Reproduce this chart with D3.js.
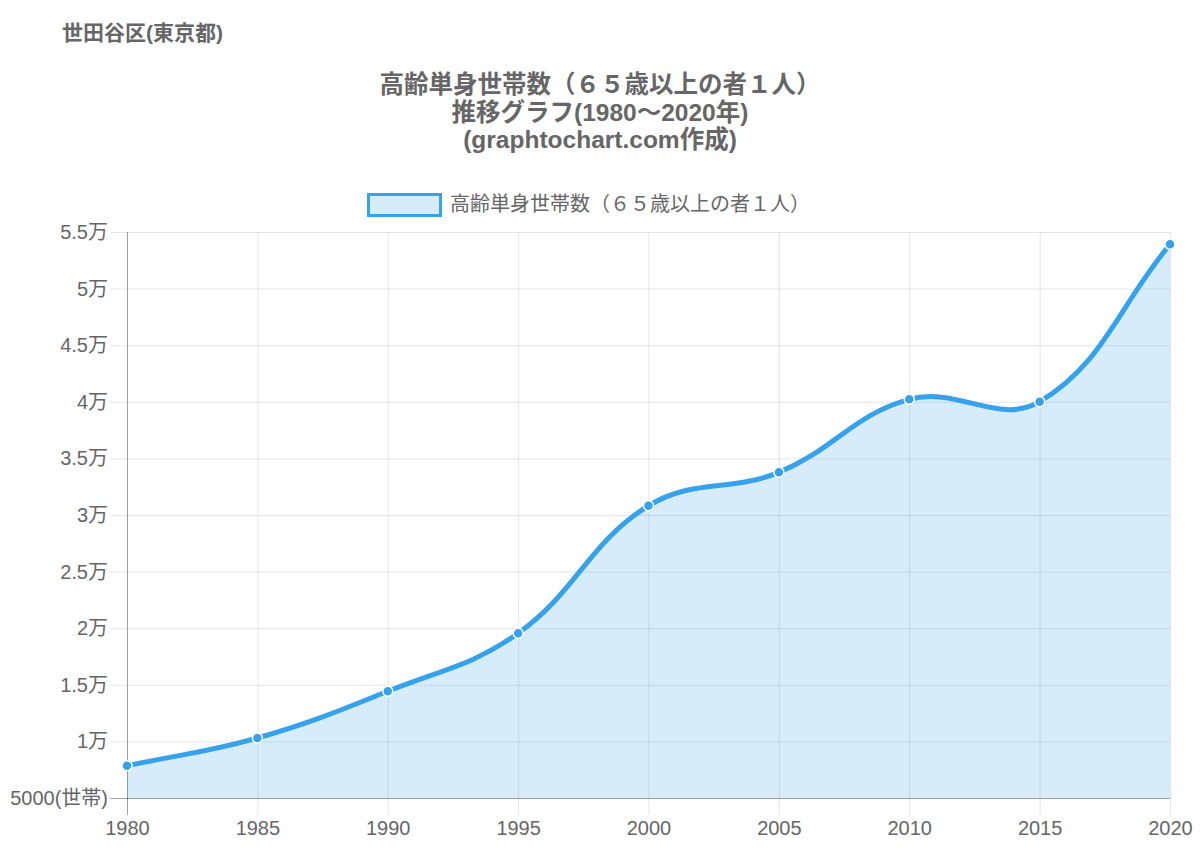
<!DOCTYPE html>
<html>
<head>
<meta charset="utf-8">
<script src="https://cdn.jsdelivr.net/npm/d3@7"></script>
<style>
  body { margin: 0; background: #fff; }
  text { font-family: "Liberation Sans", Arial, "Noto Sans CJK JP", sans-serif; }
</style>
</head>
<body>
<script>
(function() {

	var width = 1200;
	var height = 851;

	// data
	var years = [1980, 1985, 1990, 1995, 2000, 2005, 2010, 2015, 2020];
	var households = [7850, 10300, 14430, 19550, 30820, 33770, 40220, 40010, 53910];
	var yTicks = [5000, 10000, 15000, 20000, 25000, 30000, 35000, 40000, 45000, 50000, 55000];
	var seriesName = '高齢単身世帯数（６５歳以上の者１人）';
	var titleLines = ['高齢単身世帯数（６５歳以上の者１人）', '推移グラフ(1980〜2020年)', '(graphtochart.com作成)'];
	var areaLabel = '世田谷区(東京都)';

	var lineColor = 'rgb(54,162,235)';
	var fillColor = 'rgba(54,162,235,0.2)';
	var textColor = '#666';
	var fontStack = '"Liberation Sans", Arial, "Noto Sans CJK JP", sans-serif';

	var left = 127, right = 1170, top = 232, bottom = 798;
	var tickLen = 17;

	var svg = d3.select('body')
		.append('svg')
			.attr('width', width)
			.attr('height', height);

	// header
	svg.append('text')
		.attr('x', 62)
		.attr('y', 40)
		.attr('font-size', 21)
		.attr('font-weight', 'bold')
		.attr('fill', textColor)
		.text(areaLabel);

	titleLines.forEach(function(line, i) {
		svg.append('text')
			.attr('x', 600)
			.attr('y', 93 + i * 27.5)
			.attr('text-anchor', 'middle')
			.attr('font-size', 24.5)
			.attr('font-weight', 'bold')
			.attr('fill', textColor)
			.text(line);
	});

	// legend
	svg.append('rect')
		.attr('x', 368.5)
		.attr('y', 194.5)
		.attr('width', 72)
		.attr('height', 21)
		.attr('fill', fillColor)
		.attr('stroke', lineColor)
		.attr('stroke-width', 3);
	svg.append('text')
		.attr('x', 450)
		.attr('y', 211)
		.attr('font-size', 20)
		.attr('fill', textColor)
		.text(seriesName);

	var x = d3.scaleLinear().domain([1980, 2020]).range([left, right]);
	var y = d3.scaleLinear().domain([5000, 55000]).range([bottom, top]);

	var fmtY = function(v) {
		if (v < 10000) return v + '(世帯)';
		return (v / 10000) + '万';
	};

	// grid
	var grid = svg.append('g');
	grid.selectAll('line.h')
		.data(yTicks)
		.enter().append('line')
			.attr('x1', left - tickLen)
			.attr('x2', right)
			.attr('y1', d => y(d) + 0.5)
			.attr('y2', d => y(d) + 0.5)
			.attr('stroke', 'rgba(0,0,0,0.1)');
	grid.selectAll('line.v')
		.data(years)
		.enter().append('line')
			.attr('x1', d => x(d) + 0.5)
			.attr('x2', d => x(d) + 0.5)
			.attr('y1', top)
			.attr('y2', bottom + tickLen)
			.attr('stroke', 'rgba(0,0,0,0.1)');

	// y axis
	var yAxis = d3.axisLeft(y)
		.tickValues(yTicks)
		.tickFormat(fmtY)
		.tickSize(0)
		.tickPadding(19);
	var gy = svg.append('g')
		.attr('transform', 'translate(' + left + ',0)')
		.call(yAxis);
	gy.select('.domain').remove();
	gy.selectAll('text')
		.attr('font-size', 20)
		.attr('fill', textColor)
		.style('font-family', fontStack);

	// x axis
	var xAxis = d3.axisBottom(x)
		.tickValues(years)
		.tickFormat(d3.format('d'))
		.tickSize(0)
		.tickPadding(23);
	var gx = svg.append('g')
		.attr('transform', 'translate(0,' + bottom + ')')
		.call(xAxis);
	gx.select('.domain').remove();
	gx.selectAll('text')
		.attr('font-size', 20)
		.attr('fill', textColor)
		.style('font-family', fontStack);

	// axis lines
	svg.append('line')
		.attr('x1', left + 0.5).attr('x2', left + 0.5)
		.attr('y1', top).attr('y2', bottom + tickLen)
		.attr('stroke', 'rgba(0,0,0,0.3)');
	svg.append('line')
		.attr('x1', left - tickLen).attr('x2', right)
		.attr('y1', bottom + 0.5).attr('y2', bottom + 0.5)
		.attr('stroke', 'rgba(0,0,0,0.3)');

	// spline like chart.js (tension 0.4)
	var pts = years.map((yr, i) => [x(yr), y(households[i])]);
	var tension = 0.4;
	var ctrl = pts.map(function(p, i) {
		var prev = pts[Math.max(i - 1, 0)];
		var next = pts[Math.min(i + 1, pts.length - 1)];
		var d01 = Math.hypot(p[0] - prev[0], p[1] - prev[1]);
		var d12 = Math.hypot(next[0] - p[0], next[1] - p[1]);
		var s01 = d01 / (d01 + d12) || 0;
		var s12 = d12 / (d01 + d12) || 0;
		var fa = tension * s01, fb = tension * s12;
		return {
			prev: [p[0] - fa * (next[0] - prev[0]), Math.min(bottom, Math.max(top, p[1] - fa * (next[1] - prev[1])))],
			next: [p[0] + fb * (next[0] - prev[0]), Math.min(bottom, Math.max(top, p[1] + fb * (next[1] - prev[1])))]
		};
	});

	function curve(path) {
		path.moveTo(pts[0][0], pts[0][1]);
		for (var i = 1; i < pts.length; i++) {
			path.bezierCurveTo(ctrl[i - 1].next[0], ctrl[i - 1].next[1],
				ctrl[i].prev[0], ctrl[i].prev[1], pts[i][0], pts[i][1]);
		}
		return path;
	}

	var areaPath = curve(d3.path());
	areaPath.lineTo(pts[pts.length - 1][0], y(5000));
	areaPath.lineTo(pts[0][0], y(5000));
	areaPath.closePath();

	svg.append('path')
		.attr('d', areaPath.toString())
		.attr('fill', fillColor);

	svg.append('path')
		.attr('d', curve(d3.path()).toString())
		.attr('fill', 'none')
		.attr('stroke', lineColor)
		.attr('stroke-width', 5);

	svg.selectAll('circle.pt')
		.data(households)
		.enter().append('circle')
			.attr('cx', (d, i) => x(years[i]))
			.attr('cy', d => y(d))
			.attr('r', 5)
			.attr('fill', lineColor)
			.attr('stroke', '#fff')
			.attr('stroke-width', 1.5);

})();
</script>
</body>
</html>
